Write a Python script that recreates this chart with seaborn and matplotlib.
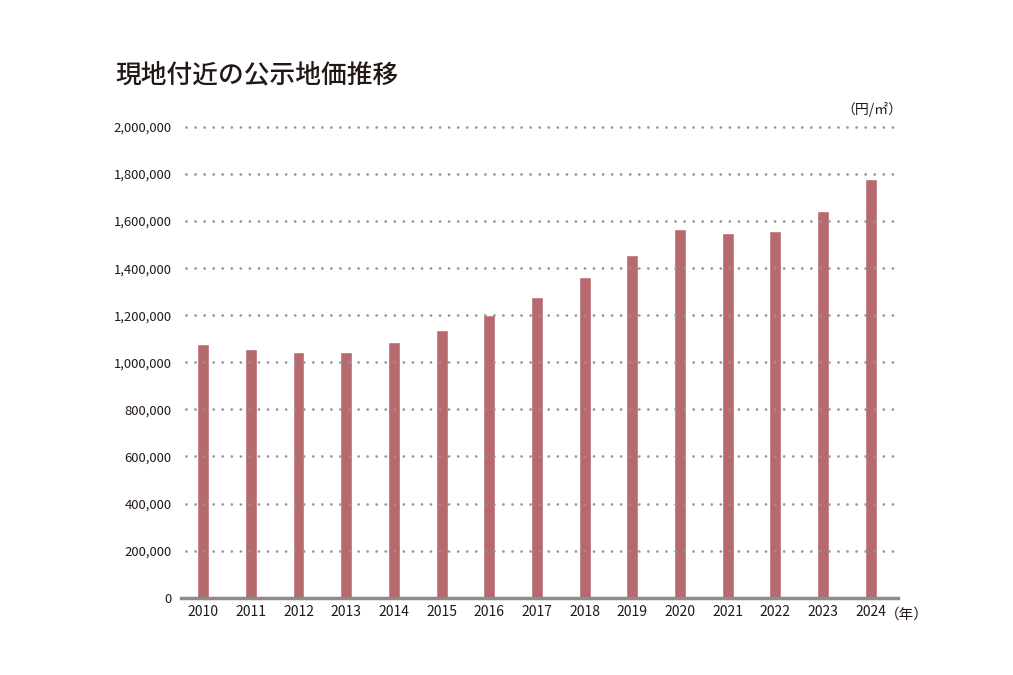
import pandas as pd
import matplotlib
matplotlib.use("Agg")
import matplotlib.pyplot as plt
import seaborn as sns

years = ['2010', '2011', '2012', '2013', '2014', '2015', '2016', '2017',
         '2018', '2019', '2020', '2021', '2022', '2023', '2024']
prices = [1078000, 1058000, 1046000, 1046000, 1085000, 1136000, 1200000, 1278000,
          1364000, 1455000, 1565000, 1548000, 1556000, 1645000, 1777000]
y_ticks = [0, 200000, 400000, 600000, 800000, 1000000, 1200000, 1400000,
           1600000, 1800000, 2000000]

title = '現地付近の公示地価推移'
unit_label = '（円/㎡）'
year_label = '（年）'

df = pd.DataFrame({'year': years, 'price': prices})

sns.set_style('white')
plt.rcParams['font.family'] = ['Noto Sans CJK JP', 'DejaVu Sans']

text_color = '#231815'
bar_color = '#b76a6d'
grid_color = '#8c8c8c'

fig = plt.figure(figsize=(10.13, 6.75), dpi=100)
ax = fig.add_axes([0.1784, 0.1145, 0.708, 0.6974])

sns.barplot(data=df, x='year', y='price', color=bar_color, saturation=1,
            width=0.25, ax=ax, zorder=1)

ax.set_ylim(0, 2000000)
ax.set_xlim(-0.47, 14.57)
ax.set_yticks(y_ticks)
ax.set_yticklabels([f'{v:,}' for v in y_ticks])

# dotted grid drawn over the bars
for v in y_ticks[1:]:
    ax.axhline(v, xmin=0.007, xmax=1.0, color='#959595', linestyle=(0, (0.01, 3.25)),
               linewidth=2.0, dash_capstyle='round', zorder=3, clip_on=False)

for side in ['top', 'right', 'left']:
    ax.spines[side].set_visible(False)
ax.spines['bottom'].set_color(grid_color)
ax.spines['bottom'].set_linewidth(2.5)
ax.spines['bottom'].set_zorder(4)

ax.tick_params(axis='both', length=0, colors=text_color)
ax.tick_params(axis='y', pad=6.5, labelsize=9.4)
ax.tick_params(axis='x', pad=5.5, labelsize=10)
ax.set_xlabel('')
ax.set_ylabel('')

fig.text(0.1135, 0.887, title, fontsize=18.5, fontweight='medium', color=text_color,
         ha='left', va='center')
fig.text(0.891, 0.838, unit_label, fontsize=10, color=text_color, ha='right', va='center')
ax.text(0.982, -0.02, year_label, transform=ax.transAxes, fontsize=10.5, color=text_color,
        ha='left', va='top')

fig.savefig('out.png', dpi=100, facecolor='white')
